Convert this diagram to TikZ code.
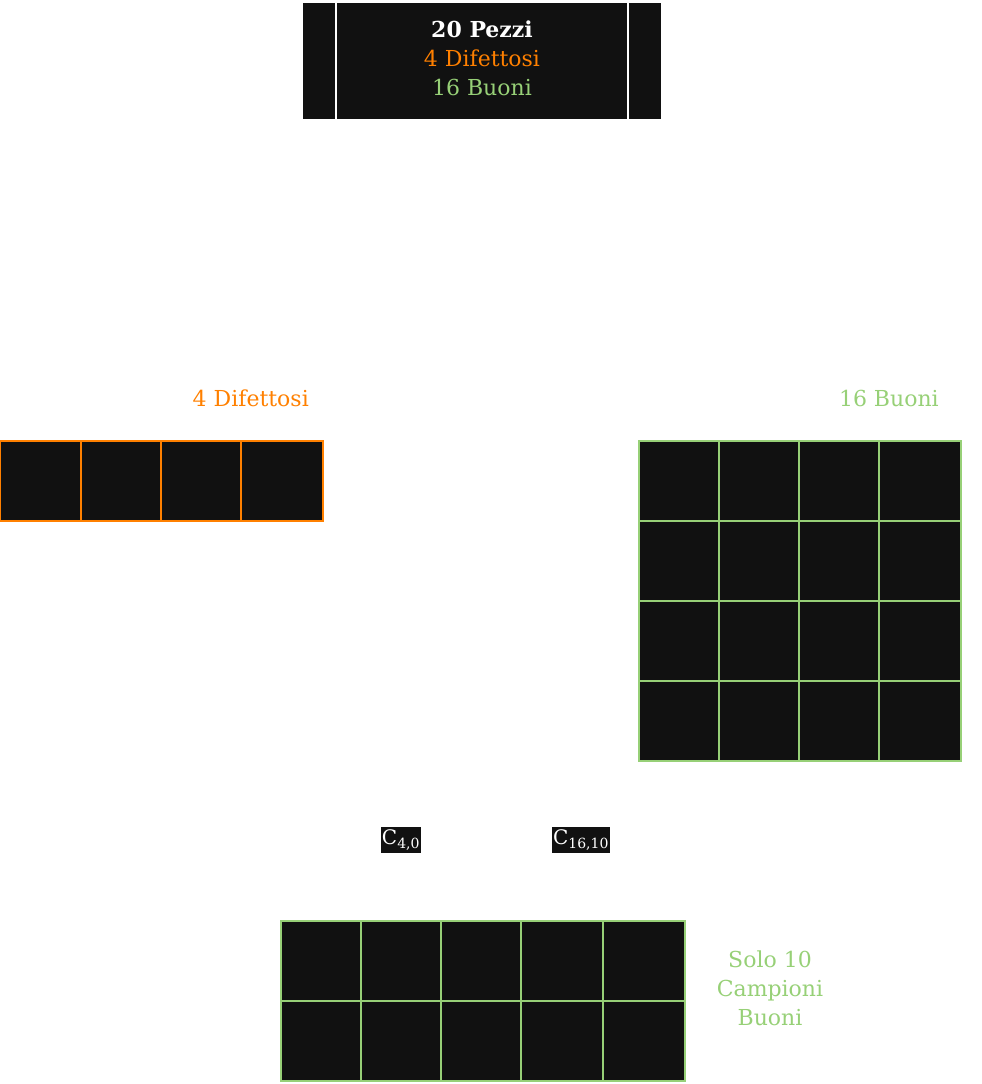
\documentclass[tikz,border=0pt]{standalone}
\usepackage{fontspec}
\setmainfont{DejaVu Serif}
\definecolor{bg}{HTML}{111111}
\definecolor{orangeC}{HTML}{FF8000}
\definecolor{greenC}{HTML}{97D077}
\begin{document}
\begin{tikzpicture}[x=1pt,y=-1pt,
  txt/.style={font=\fontsize{22}{29}\selectfont, inner sep=0pt, align=center},
  cellbox/.style={fill=bg, line width=1.6pt, inner sep=0pt, minimum height=80pt},
  sublabel/.style={font=\fontsize{20}{24}\selectfont, fill=bg, text=white, inner xsep=1pt, inner ysep=3pt}]
\useasboundingbox (0,0) rectangle (982,1084);
% top box
\node[draw=white, fill=bg, line width=2pt, minimum width=360pt, minimum height=118pt, inner sep=0pt] (box) at (482,61) {};
\draw[white, line width=2pt] ([xshift=35pt]box.north west) -- ([xshift=35pt]box.south west);
\draw[white, line width=2pt] ([xshift=-35pt]box.north east) -- ([xshift=-35pt]box.south east);
\node[txt, text=white] (toptxt) at (482,58) {\textbf{20 Pezzi}\\\textcolor{orangeC}{4 Difettosi}\\\textcolor{greenC}{16 Buoni}};
% labels
\node[txt, text=orangeC, anchor=east] (ldif) at (309,398) {4 Difettosi};
\node[txt, text=greenC, anchor=east] (lbuo) at (939,398) {16 Buoni};
\node[txt, text=greenC] (lsolo) at (770,988) {Solo 10\\Campioni\\Buoni};
% defective row
\foreach \a/\b [count=\i] in {0/81,81/161,161/241,241/323}{
  \pgfmathsetmacro\w{\b-\a}\pgfmathsetmacro\c{(\a+\b)/2}
  \node[cellbox, draw=orangeC, minimum width=\w pt] (dif\i) at (\c,481) {};
}
% good grid 4x4
\foreach \y [count=\r] in {481,561,641,721}{
  \foreach \a/\b [count=\i] in {639/719,719/799,799/879,879/961}{
    \pgfmathsetmacro\w{\b-\a}\pgfmathsetmacro\c{(\a+\b)/2}
    \node[cellbox, draw=greenC, minimum width=\w pt] (g\r\i) at (\c,\y) {};
  }
}
% sample grid 5x2
\foreach \y [count=\r] in {961,1041}{
  \foreach \a/\b [count=\i] in {281/361,361/441,441/521,521/603,603/685}{
    \pgfmathsetmacro\w{\b-\a}\pgfmathsetmacro\c{(\a+\b)/2}
    \node[cellbox, draw=greenC, minimum width=\w pt] (s\r\i) at (\c,\y) {};
  }
}
% combination labels
\node[sublabel] (c1) at (401,840) {C\textsubscript{4,0}};
\node[sublabel] (c2) at (581,840) {C\textsubscript{16,10}};
\end{tikzpicture}
\end{document}
